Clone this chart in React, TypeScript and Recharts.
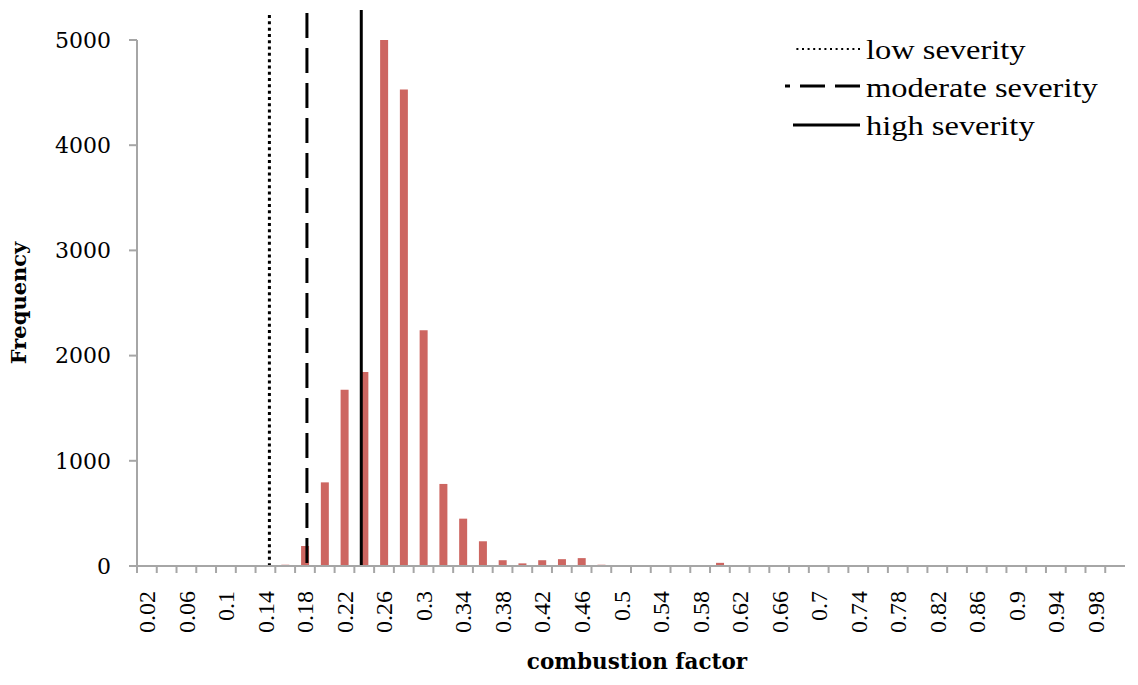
import React from 'react';
import { BarChart, Bar, XAxis, YAxis, ReferenceLine, Label } from 'recharts';

// combustion factor classes (bin centres) and their counts
const CATEGORIES = [
  0.02, 0.04, 0.06, 0.08, 0.1, 0.12, 0.14, 0.16, 0.18, 0.2,
  0.22, 0.24, 0.26, 0.28, 0.3, 0.32, 0.34, 0.36, 0.38, 0.4,
  0.42, 0.44, 0.46, 0.48, 0.5, 0.52, 0.54, 0.56, 0.58, 0.6,
  0.62, 0.64, 0.66, 0.68, 0.7, 0.72, 0.74, 0.76, 0.78, 0.8,
  0.82, 0.84, 0.86, 0.88, 0.9, 0.92, 0.94, 0.96, 0.98, 1,
];
const FREQUENCY = [
  0, 0, 0, 0, 0, 0, 0, 12, 190, 795,
  1675, 1845, 5000, 4530, 2240, 780, 450, 235, 55, 25,
  55, 65, 75, 12, 0, 0, 0, 3, 0, 30,
  0, 0, 0, 0, 0, 0, 0, 0, 0, 0,
  0, 0, 0, 0, 0, 0, 0, 0, 0, 0,
];
const Y_TICKS = [0, 1000, 2000, 3000, 4000, 5000];

// severity thresholds drawn as vertical lines
const SEVERITY_NAMES = ['low severity', 'moderate severity', 'high severity'];
const SEVERITY_VALUES = [0.144, 0.182, 0.237];
const SEVERITY_TOPS = [5237, 5256, 5285];
const SEVERITY_DASH = ['3 3.3', '25 10', undefined];

const data = CATEGORIES.map((cf, i) => ({ cf, freq: FREQUENCY[i] }));
// tick marks sit on the class boundaries, half a bin either side of the centres
const BOUNDARIES = CATEGORIES.map((c) => c - 0.01);

const AXIS_GREY = '#A6A6A6';
const BAR_RED = '#CD6661';

const XTick = (props: any) => {
  const { x, y, payload } = props;
  return (
    <text
      x={x}
      y={y}
      transform={`rotate(-90, ${x}, ${y})`}
      textAnchor="end"
      dy="0.35em"
      fontFamily="'Liberation Serif', serif"
      fontSize={24}
      fill="#000"
    >
      {payload.value}
    </text>
  );
};

const Legend = () => {
  const rows = [49, 86, 125];
  const base = [59, 97, 135];
  return (
    <svg width={1138} height={685} style={{ position: 'absolute', left: 0, top: 0, pointerEvents: 'none' }}>
      <line x1={860} x2={795} y1={rows[0]} y2={rows[0]} stroke="#000" strokeWidth={2} strokeDasharray="2 3.6" />
      <line x1={860} x2={785} y1={rows[1]} y2={rows[1]} stroke="#000" strokeWidth={3} strokeDasharray="25 10" />
      <line x1={860} x2={793} y1={rows[2]} y2={rows[2]} stroke="#000" strokeWidth={3} />
      {SEVERITY_NAMES.map((name, i) => (
        <text
          key={name}
          transform={`translate(866, ${base[i]}) scale(1.16, 1)`}
          fontFamily="'Liberation Serif', serif"
          fontSize={28}
          fill="#000"
        >
          {name}
        </text>
      ))}
    </svg>
  );
};

export default function App() {
  return (
    <div style={{ position: 'absolute', left: 0, top: 0, width: 1138, height: 685, background: '#fff' }}>
      <BarChart width={1138} height={685} data={data} margin={{ top: 40, right: 13, bottom: 8, left: 0 }}>
        {/* numeric axis: boundary tick marks + position of threshold lines */}
        <XAxis
          xAxisId={0}
          type="number"
          dataKey="cf"
          domain={[0.01, 1.01]}
          allowDataOverflow
          ticks={BOUNDARIES}
          interval={0}
          tickFormatter={() => ''}
          tickSize={7}
          height={1}
          axisLine={{ stroke: AXIS_GREY, strokeWidth: 2 }}
          tickLine={{ stroke: AXIS_GREY, strokeWidth: 2 }}
        />
        {/* category axis: the labels */}
        <XAxis
          xAxisId={1}
          dataKey="cf"
          type="category"
          interval={1}
          tick={<XTick />}
          tickSize={0}
          tickMargin={24}
          tickLine={false}
          axisLine={false}
          height={110}
        >
          <Label
            content={(p: any) => {
              const vb = p.viewBox;
              return (
                <text
                  x={vb.x + vb.width / 2 + 6}
                  y={vb.y + 102}
                  textAnchor="middle"
                  fontFamily="'DejaVu Serif', serif"
                  fontWeight="bold"
                  fontSize={21.5}
                  fill="#000"
                >
                  combustion factor
                </text>
              );
            }}
          />
        </XAxis>
        <YAxis
          width={137}
          domain={[0, 5000]}
          allowDataOverflow
          ticks={Y_TICKS}
          interval={0}
          tickSize={8}
          tickMargin={18}
          axisLine={{ stroke: AXIS_GREY, strokeWidth: 2 }}
          tickLine={{ stroke: AXIS_GREY, strokeWidth: 2 }}
          tick={{ fontFamily: "'DejaVu Serif', serif", fontSize: 22, fill: '#000' }}
        >
          <Label
            content={(p: any) => {
              const vb = p.viewBox;
              const cx = vb.x + 19;
              const cy = vb.y + vb.height / 2;
              return (
                <text
                  x={cx}
                  y={cy}
                  transform={`rotate(-90, ${cx}, ${cy})`}
                  textAnchor="middle"
                  dy="0.35em"
                  fontFamily="'DejaVu Serif', serif"
                  fontWeight="bold"
                  fontSize={21}
                  fill="#000"
                >
                  Frequency
                </text>
              );
            }}
          />
        </YAxis>
        <Bar xAxisId={1} dataKey="freq" fill={BAR_RED} barSize={8} isAnimationActive={false} />
        {SEVERITY_NAMES.map((name, i) => (
          <ReferenceLine
            key={name}
            xAxisId={0}
            segment={[
              { x: SEVERITY_VALUES[i], y: SEVERITY_TOPS[i] },
              { x: SEVERITY_VALUES[i], y: 0 },
            ]}
            ifOverflow="visible"
            stroke="#000"
            strokeWidth={3}
            strokeDasharray={SEVERITY_DASH[i]}
          />
        ))}
      </BarChart>
      <Legend />
    </div>
  );
}
